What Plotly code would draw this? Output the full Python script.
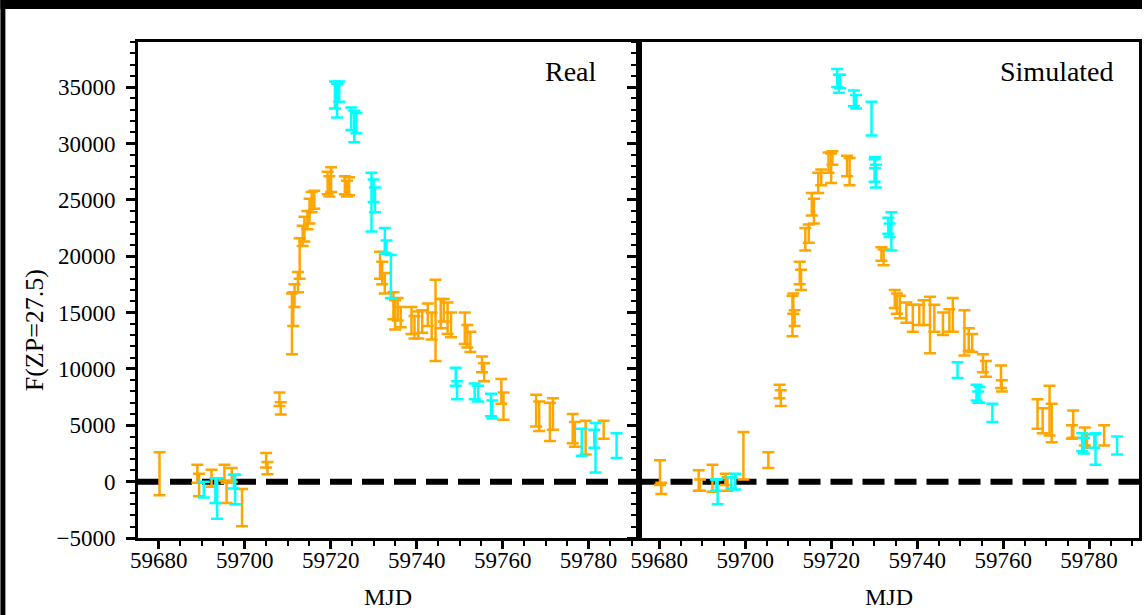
import plotly.graph_objects as go

# ---- light-curve data: (MJD, flux, 1-sigma error) per band ----
real_orange_mjd = [59680.2, 59689.0, 59689.4, 59692.3, 59695.3, 59695.8, 59697.0, 59699.4,
                   59705.0, 59705.3, 59708.1, 59708.4, 59711.0, 59711.3, 59711.6, 59712.4,
                   59712.8, 59713.5, 59713.9, 59714.6, 59715.1, 59715.6, 59716.2, 59719.3,
                   59719.7, 59720.1, 59723.3, 59723.8, 59724.3, 59731.5, 59732.0, 59732.6,
                   59734.6, 59735.0, 59735.6, 59736.3, 59738.8, 59739.5, 59740.4, 59741.3,
                   59742.6, 59743.5, 59744.4, 59745.6, 59746.3, 59747.2, 59748.0, 59751.2,
                   59751.8, 59752.5, 59755.2, 59755.7, 59759.7, 59760.2, 59767.8, 59768.5,
                   59771.0, 59771.7, 59776.3, 59776.8, 59779.3, 59783.5]
real_orange_flux = [700, 700, -300, 300, 800, -1000, 600, -2300,
                    1900, 1200, 7300, 6500, 14000, 15300, 16500, 17700,
                    19800, 21800, 22400, 23200, 24000, 24800, 25000, 26500,
                    26200, 26800, 26300, 26000, 26200, 19200, 18500, 17600,
                    15600, 14800, 15300, 14600, 14300, 13700, 13900, 14200,
                    14800, 13800, 14300, 14900, 15200, 14500, 13900, 13600,
                    12900, 12400, 10400, 9700, 8000, 6700, 6300, 5800,
                    5300, 6000, 4700, 4200, 3900, 4600]
real_orange_err = [1900, 800, 1000, 750, 700, 900, 600, 1650,
                   650, 550, 600, 550, 2700, 1500, 1000, 900,
                   1800, 900, 1100, 800, 1100, 900, 800, 1000,
                   900, 1100, 800, 700, 800, 1200, 1000, 900,
                   1200, 1300, 1000, 900, 1200, 1000, 1200, 1000,
                   1000, 1200, 3600, 1300, 1000, 1400, 1100, 1400,
                   1000, 900, 700, 800, 1100, 1200, 1400, 1300,
                   1700, 1400, 1300, 1100, 1500, 800]

real_cyan_mjd = [59690.5, 59693.2, 59693.6, 59697.5, 59697.8, 59721.0, 59721.5, 59722.0,
                 59724.8, 59725.5, 59726.0, 59729.5, 59730.0, 59730.3, 59732.6, 59733.0,
                 59734.0, 59749.1, 59749.4, 59753.5, 59754.3, 59757.3, 59757.6, 59778.4,
                 59781.3, 59781.6, 59786.5]
real_cyan_flux = [-700, -800, -1500, 0, -700, 34300, 33800, 34600,
                  32200, 31500, 31800, 24800, 25800, 25000, 21400, 20800,
                  18200, 9300, 8100, 8000, 7800, 6800, 6400, 3500,
                  3800, 3000, 3200]
real_cyan_err = [700, 1100, 1800, 600, 1300, 1200, 1500, 900,
                 1000, 1400, 900, 2600, 1000, 1100, 1100, 600,
                 1900, 800, 800, 700, 700, 1000, 800, 1200,
                 800, 2200, 1100]

sim_orange_mjd = [59680.2, 59680.5, 59689.2, 59689.5, 59692.4, 59695.5, 59695.9, 59699.6,
                  59705.4, 59708.0, 59708.3, 59711.0, 59711.2, 59711.5, 59712.7, 59713.0,
                  59714.0, 59714.8, 59715.5, 59716.0, 59717.0, 59717.7, 59719.4, 59720.0,
                  59720.3, 59723.7, 59724.3, 59731.7, 59732.2, 59734.8, 59735.3, 59736.0,
                  59737.5, 59739.0, 59740.5, 59741.5, 59743.0, 59744.0, 59746.0, 59747.5,
                  59748.3, 59751.0, 59752.0, 59752.8, 59755.3, 59756.0, 59759.5, 59759.7,
                  59768.0, 59769.2, 59770.8, 59771.3, 59776.0, 59776.3, 59779.0, 59779.5,
                  59783.5]
sim_orange_flux = [800, -600, 100, -300, 300, 200, -200, 2300,
                   1900, 8000, 7400, 14700, 15800, 14500, 18500, 17900,
                   21500, 22000, 24600, 24000, 26500, 27000, 28300, 27800,
                   28700, 28000, 27500, 20200, 19900, 16200, 15800, 15500,
                   15000, 14500, 14800, 15000, 13900, 14500, 14000, 14300,
                   14800, 13200, 12600, 12300, 10500, 10000, 9300, 8500,
                   6000, 5400, 6300, 5200, 4400, 5100, 4000, 3600,
                   4100]
sim_orange_err = [1100, 500, 900, 500, 1200, 500, 600, 2100,
                  700, 600, 700, 1800, 900, 700, 1000, 900,
                  1000, 800, 1000, 1100, 900, 700, 900, 1300,
                  600, 900, 1200, 600, 700, 800, 900, 1000,
                  900, 1200, 900, 1100, 2500, 1200, 1000, 1000,
                  1500, 2000, 1000, 800, 800, 700, 1000, 500,
                  1300, 1100, 2200, 1700, 600, 1200, 800, 600,
                  900]

sim_cyan_mjd = [59693.2, 59693.6, 59696.8, 59697.7, 59721.4, 59721.8, 59722.1, 59725.3,
                59725.8, 59729.4, 59730.1, 59730.2, 59730.4, 59733.3, 59733.6, 59734.0,
                59749.4, 59753.8, 59754.2, 59754.5, 59757.5, 59778.4, 59778.8, 59781.2,
                59781.5, 59786.5]
sim_cyan_flux = [-300, -900, -100, 0, 35800, 35300, 35500, 34000,
                 33700, 32200, 27600, 28300, 27100, 22700, 22300, 22200,
                 9900, 7900, 7500, 7700, 6100, 3500, 3200, 3600,
                 2900, 3200]
sim_cyan_err = [500, 1100, 500, 700, 800, 800, 600, 700,
                600, 1500, 1000, 500, 1000, 700, 600, 1700,
                700, 700, 500, 700, 800, 800, 700, 600,
                1400, 800]

panel_titles = ["Real", "Simulated"]
mjd_range = [59675.2, 59791.6]
flux_range = [-5000, 39000]

ORANGE = "#FFA500"
CYAN = "#00FFFF"
FONT = "Liberation Serif"

# figure geometry (pixels)
W, H = 1145, 615
ML, MR, MT, MB = 138, 3, 42, 77
PW, PH = W - ML - MR, H - MT - MB


def px_x(px):
    return (px - ML) / PW


def px_y(py):
    return (H - MB - py) / PH


fig = go.Figure()

panels = [
    ("x", "y", real_orange_mjd, real_orange_flux, real_orange_err,
     real_cyan_mjd, real_cyan_flux, real_cyan_err),
    ("x2", "y2", sim_orange_mjd, sim_orange_flux, sim_orange_err,
     sim_cyan_mjd, sim_cyan_flux, sim_cyan_err),
]

for xa, ya, om, of, oe, cm, cf, ce in panels:
    # zero-flux reference line
    fig.add_trace(go.Scatter(
        x=mjd_range, y=[0, 0], mode="lines", xaxis=xa, yaxis=ya,
        line=dict(color="black", width=6, dash="22px,10px"),
        hoverinfo="skip", showlegend=False))
    for m, f, e, col in ((om, of, oe, ORANGE), (cm, cf, ce, CYAN)):
        fig.add_trace(go.Scatter(
            x=m, y=f, mode="markers", xaxis=xa, yaxis=ya,
            marker=dict(size=0.1, color=col),
            error_y=dict(type="data", array=e, visible=True, color=col,
                         thickness=2.5, width=6),
            showlegend=False))

xcommon = dict(range=mjd_range, tick0=59680, dtick=20, tickformat="d",
               ticks="outside", ticklen=8, tickwidth=2.5, tickcolor="black",
               minor=dict(dtick=5, ticks="outside", ticklen=5, tickwidth=2,
                          tickcolor="black"),
               showline=True, linewidth=3, linecolor="black", mirror=True,
               showgrid=False, zeroline=False, ticklabelstandoff=-9,
               tickfont=dict(family=FONT, size=23, color="black"))
ycommon = dict(range=flux_range, dtick=5000, tickformat="d",
               ticks="outside", ticklen=9, tickwidth=2.5, tickcolor="black",
               minor=dict(dtick=1000, ticks="outside", ticklen=5, tickwidth=2,
                          tickcolor="black"),
               showline=True, linewidth=3, linecolor="black", mirror=True,
               showgrid=False, zeroline=False, ticklabelstandoff=6,
               tickfont=dict(family=FONT, size=23, color="black"))

fig.update_layout(
    width=W, height=H,
    margin=dict(l=ML, r=MR, t=MT, b=MB, pad=0),
    paper_bgcolor="white", plot_bgcolor="white",
    xaxis=dict(domain=[0, 0.5], anchor="y", **xcommon),
    xaxis2=dict(domain=[0.5, 1], anchor="y2", **xcommon),
    yaxis=dict(anchor="x", **ycommon),
    yaxis2=dict(anchor="x2", showticklabels=False, **ycommon),
)

annotations = [
    dict(text=panel_titles[0], x=px_x(600), y=px_y(72), xref="paper", yref="paper",
         xanchor="right", yanchor="middle", showarrow=False,
         font=dict(family=FONT, size=28, color="black")),
    dict(text=panel_titles[1], x=px_x(1119), y=px_y(72), xref="paper", yref="paper",
         xanchor="right", yanchor="middle", showarrow=False,
         font=dict(family=FONT, size=28, color="black")),
    dict(text="MJD", x=px_x(389), y=px_y(597), xref="paper", yref="paper",
         xanchor="center", yanchor="middle", showarrow=False,
         font=dict(family=FONT, size=24, color="black")),
    dict(text="MJD", x=px_x(891), y=px_y(597), xref="paper", yref="paper",
         xanchor="center", yanchor="middle", showarrow=False,
         font=dict(family=FONT, size=24, color="black")),
    dict(text="F(ZP=27.5)", x=px_x(35), y=px_y(330), xref="paper", yref="paper",
         xanchor="center", yanchor="middle", showarrow=False, textangle=-90,
         font=dict(family=FONT, size=26, color="black")),
]
fig.update_layout(annotations=annotations)

# dark frame bands along the top and left edges of the page
fig.add_shape(type="rect", xref="paper", yref="paper",
              x0=px_x(0), x1=px_x(W), y0=px_y(9), y1=px_y(0),
              fillcolor="black", line_width=0, layer="above")
fig.add_shape(type="rect", xref="paper", yref="paper",
              x0=px_x(0), x1=px_x(5), y0=px_y(H), y1=px_y(0),
              fillcolor="black", line_width=0, layer="above")

fig.write_html("out.html")
